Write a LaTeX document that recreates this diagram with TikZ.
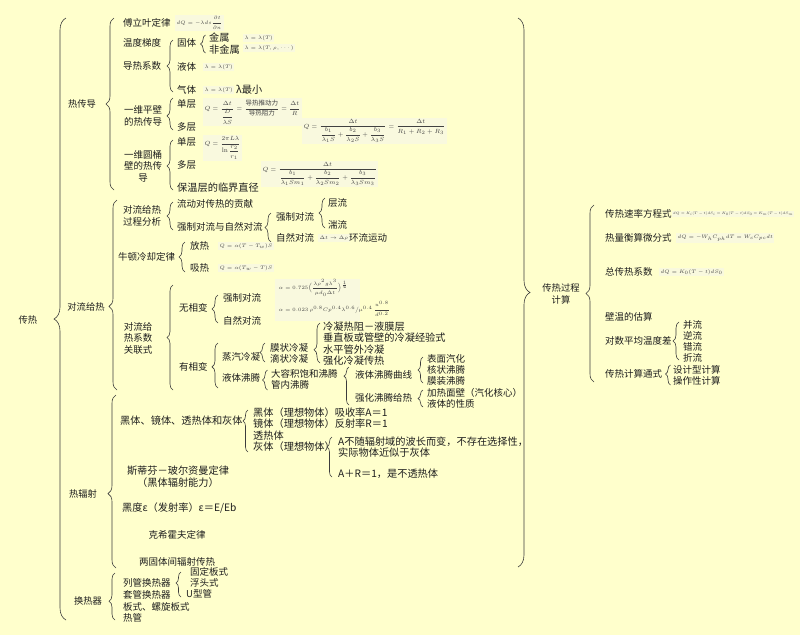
\documentclass[tikz,border=0pt]{standalone}
\usepackage{amsmath}
\usepackage{fontspec}
\usetikzlibrary{decorations.pathreplacing}
\newfontfamily\cjk{Noto Sans CJK SC}
\definecolor{bgcol}{RGB}{255,255,204}
\definecolor{formbg}{RGB}{249,249,222}
\definecolor{linecol}{RGB}{60,60,60}
\definecolor{txtcol}{RGB}{30,30,30}
\definecolor{formcol}{RGB}{65,65,65}
\tikzset{
  item/.style={anchor=west, inner sep=0pt, text=txtcol, font=\cjk\fontsize{9.5}{11.5}\selectfont},
  head/.style={inner sep=0pt, text=txtcol, align=center, font=\cjk\fontsize{9.5}{11.5}\selectfont},
  lvl/.style={head, font=\cjk\fontsize{9.3}{12}\selectfont},
  big/.style={font=\cjk\fontsize{10.2}{12}\selectfont},
  formula/.style={anchor=west, inner sep=1.5pt, fill=formbg, text=formcol, font=\fontsize{5.3}{6}\selectfont},
  brc/.style={decorate, decoration={brace, amplitude=#1}, draw=linecol, line width=0.6pt},
  brc/.default=6pt,
}
\begin{document}
\begin{tikzpicture}[x=1pt,y=-1pt]
\fill[bgcol] (0,0) rectangle (800,635);
\useasboundingbox (0,0) rectangle (800,635);

% root
\node[lvl] (ch) at (28,320) {传热};
\draw[brc=12pt] (66,620) -- (66,18);

% first level
\node[lvl] (rcd) at (82,104) {热传导};
\draw[brc=8pt] (114,190) -- (114,18);
\node[lvl] (dlgr) at (86,307) {对流给热};
\draw[brc=8pt, decoration={aspect=0.44}] (117,390) -- (117,200);
\node[lvl] (rfs) at (83,494) {热辐射};
\draw[brc=8pt, decoration={aspect=0.43}] (116,568) -- (116,395);
\node[lvl] (hrq) at (88,601) {换热器};
\draw[brc=6pt, decoration={aspect=0.4}] (115,620) -- (115,573);

\draw[brc=12pt] (518,18) -- (518,567);
\node[lvl] (cgjs) at (561,294) {传热过程\\计算};
\draw[brc=8pt] (594,382) -- (594,205);

% conduction
\node[item] (fly) at (123,23) {傅立叶定律};
\node[formula] (flyf) at (175,23) {$dQ=-\lambda ds\dfrac{\partial t}{\partial n}$};
\node[item] (wdtd) at (123,43) {温度梯度};
\node[item] (drxs) at (123,66) {导热系数};
\draw[brc] (173,92) -- (173,40);
\node[item] (gt) at (177,43) {固体};
\draw[brc=5pt] (205.5,53) -- (205.5,35);
\node[item, big] (js) at (209,38) {金属};
\node[item, big] (fjs) at (209,50) {非金属};
\node[formula] (jsf) at (243,38) {$\lambda=\lambda(T)$};
\node[formula] (fjsf) at (243,48) {$\lambda=\lambda(T,\rho,\cdots)$};
\node[item] (yt) at (177,67) {液体};
\node[formula] (ytf) at (203,67) {$\lambda=\lambda(T)$};
\node[item] (qt) at (177,90) {气体};
\node[formula] (qtf) at (203,90) {$\lambda=\lambda(T)$};
\node[item, big] (zx) at (236,90) {λ最小};

\node[head] (pb) at (143,116) {一维平壁\\的热传导};
\draw[brc, decoration={aspect=0.44}] (173,130) -- (173,98);
\node[item] (pbd) at (177,104) {单层};
\node[item] (pbm) at (177,127) {多层};
\node[formula, font=\fontsize{6.5}{7}\selectfont] (pbdf) at (203,112)
  {$Q=\dfrac{\Delta t}{\dfrac{D}{\lambda S}}=\dfrac{\mbox{\cjk 导热推动力}}{\mbox{\cjk 导热阻力}}=\dfrac{\Delta t}{R}$};
\node[formula, font=\fontsize{6}{7}\selectfont] (pbmf) at (302,131)
  {$Q=\dfrac{\Delta t}{\dfrac{b_1}{\lambda_1S}+\dfrac{b_2}{\lambda_2S}+\dfrac{b_3}{\lambda_3S}}=\dfrac{\Delta t}{R_1+R_2+R_3}$};

\node[head] (ytb) at (143,166) {一维圆桶\\壁的热传\\导};
\draw[brc, decoration={aspect=0.48}] (173,190) -- (173,140);
\node[item] (ytd) at (177,142) {单层};
\node[item] (ytm) at (177,165) {多层};
\node[item, big] (bwc) at (177,188) {保温层的临界直径};
\node[formula, font=\fontsize{6.5}{7}\selectfont] (ytdf) at (203,148)
  {$Q=\dfrac{2\pi L\lambda}{\ln\dfrac{r_2}{r_1}}$};
\node[formula, font=\fontsize{6}{7}\selectfont] (ytmf) at (261,174)
  {$Q=\dfrac{\Delta t}{\dfrac{b_1}{\lambda_1Sm_1}+\dfrac{b_2}{\lambda_2Sm_2}+\dfrac{b_3}{\lambda_3Sm_3}}$};

% convection
\node[head] (gcfx) at (142,216) {对流给热\\过程分析};
\draw[brc] (173,230) -- (173,202);
\node[item] (ldgx) at (177,204) {流动对传热的贡献};
\node[item] (qzzr) at (177,227) {强制对流与自然对流};
\draw[brc] (271,242) -- (271,213);
\node[item] (qzdl) at (276,217) {强制对流};
\draw[brc] (325,228) -- (325,198);
\node[item] (cl) at (328,203) {层流};
\node[item] (tl) at (328,225) {湍流};
\node[item] (zrdl) at (276,238) {自然对流};
\node[formula] (zrdlf) at (318,238) {$\Delta t\to\Delta\rho$};
\node[item] (hlyd) at (349,238) {环流运动};

\node[item] (ndlq) at (118,257) {牛顿冷却定律};
\draw[brc] (185,272) -- (185,242);
\node[item] (fr) at (190,246) {放热};
\node[formula] (frf) at (218,246) {$Q=\alpha(T-T_w)S$};
\node[item] (xr) at (190,268) {吸热};
\node[formula] (xrf) at (218,268) {$Q=\alpha(T_w-T)S$};

\node[head] (glx) at (138,338) {对流给\\热系数\\关联式};
\draw[brc] (173,390) -- (173,285);
\node[item] (wxb) at (179,308) {无相变};
\draw[brc] (218,323) -- (218,295);
\node[item] (qzdl2) at (223,298) {强制对流};
\node[item] (zrdl2) at (223,321) {自然对流};
\fill[formbg] (275,279) rectangle (360,321);
\node[formula, fill=none] (alf1) at (277,288)
  {$\alpha=0.725\Bigl(\dfrac{\lambda\rho^2g\lambda^3}{\mu d_0\Delta t}\Bigr)^{\frac14}$};
\node[formula, fill=none] (alf2) at (277,309)
  {$\alpha=0.023\,\rho^{0.8}Cp^{0.4}\lambda^{0.6}\big/\mu^{0.4}\,\dfrac{u^{0.8}}{d^{0.2}}$};

\node[item] (yxb) at (179,367) {有相变};
\draw[brc, decoration={aspect=0.47}] (218,388) -- (218,343);
\node[item] (zqln) at (222,357) {蒸汽冷凝};
\draw[brc=5pt] (265,362) -- (265,343);
\node[item] (mzln) at (270,348) {膜状冷凝};
\node[item] (dzln) at (270,359) {滴状冷凝};
\draw[brc, decoration={aspect=0.33}] (320,363) -- (320,323);
\node[item, big] (lnrz) at (323,327) {冷凝热阻－液膜层};
\node[item, big] (czb) at (323,338) {垂直板或管壁的冷凝经验式};
\node[item, big] (spgw) at (323,350) {水平管外冷凝};
\node[item, big] (qhln) at (323,361) {强化冷凝传热};
\node[item] (ytft) at (222,378) {液体沸腾};
\draw[brc=5pt] (267.5,390) -- (267.5,370);
\node[item] (drjb) at (271,374) {大容积饱和沸腾};
\node[item] (gnft) at (271,385) {管内沸腾};
\draw[brc=5pt, decoration={aspect=0.76}] (349,405) -- (349,367);
\node[item] (ftqx) at (355,375) {液体沸腾曲线};
\draw[brc=5pt] (423,383) -- (423,357);
\node[item] (bmqh) at (427,359) {表面汽化};
\node[item] (hzft) at (427,370) {核状沸腾};
\node[item] (mzft) at (427,381) {膜装沸腾};
\node[item] (qhft) at (355,398) {强化沸腾给热};
\draw[brc=5pt] (423,407) -- (423,390);
\node[item] (jrmb) at (427,393) {加热面壁（汽化核心）};
\node[item] (ytxz) at (427,404) {液体的性质};

% radiation
\node[item, big] (htjt) at (120,421) {黑体、镜体、透热体和灰体};
\draw[brc=5pt, decoration={aspect=0.74}] (248,452) -- (248,410);
\node[item, big] (ht) at (253,413) {黑体（理想物体）吸收率A＝1};
\node[item, big] (jt) at (253,424) {镜体（理想物体）反射率R＝1};
\node[item, big] (trt) at (253,436) {透热体};
\node[item, big] (hut) at (253,447) {灰体（理想物体）};
\draw[brc=5pt, decoration={aspect=0.75}] (332,477) -- (332,437);
\node[item, big] (hut1) at (338,442) {A不随辐射域的波长而变，不存在选择性，};
\node[item, big] (hut2) at (338,453) {实际物体近似于灰体};
\node[item, big] (hut3) at (338,474) {A＋R＝1，是不透热体};
\node[head, big] (sbdl) at (178,477) {斯蒂芬－玻尔资曼定律\\（黑体辐射能力）};
\node[item, big] (hd) at (122,508) {黑度ε（发射率）ε＝E/Eb};
\node[head] (khdl) at (177,535) {克希霍夫定律};
\node[head] (ltfs) at (177,562) {两固体间辐射传热};

% exchangers
\node[item] (lghrq) at (123,583) {列管换热器};
\draw[brc=5pt, decoration={aspect=0.56}] (181,597) -- (181,572);
\node[item] (gdbs) at (190,572) {固定板式};
\node[item] (ftsh) at (190,583) {浮头式};
\node[item] (uxg) at (186,594) {U型管};
\node[item] (tghrq) at (123,595) {套管换热器};
\node[item] (bs) at (123,607) {板式、螺旋板式};
\node[item] (rg) at (123,618) {热管};

% process calculation
\node[item] (slfc) at (605,214) {传热速率方程式};
\node[formula, inner sep=1pt, font=\fontsize{5}{6}\selectfont] (slfcf) at (672,214)
  {\scalebox{0.7}{$dQ=K_i(T-t)dS_i=K_0(T-t)dS_0=K_m(T-t)dS_m$}};
\node[item] (rlhs) at (605,238) {热量衡算微分式};
\node[formula] (rlhsf) at (676,238) {$dQ=-W_hC_{ph}dT=W_cC_{pc}dt$};
\node[item] (zcrxs) at (605,272) {总传热系数};
\node[formula] (zcrxsf) at (659,272) {$dQ=K_0(T-t)dS_0$};
\node[item] (bwgs) at (605,317) {壁温的估算};
\node[item] (dspj) at (605,341) {对数平均温度差};
\draw[brc] (679,360) -- (679,322);
\node[item] (bl) at (683,325) {并流};
\node[item] (nl) at (683,336) {逆流};
\node[item] (cl2) at (683,347) {错流};
\node[item] (zl) at (683,358) {折流};
\node[item] (jsts) at (605,374) {传热计算通式};
\draw[brc=5pt, decoration={aspect=0.55}] (670.5,385) -- (670.5,365);
\node[item] (sjx) at (673,370) {设计型计算};
\node[item] (czx) at (673,381) {操作性计算};
\end{tikzpicture}
\end{document}
